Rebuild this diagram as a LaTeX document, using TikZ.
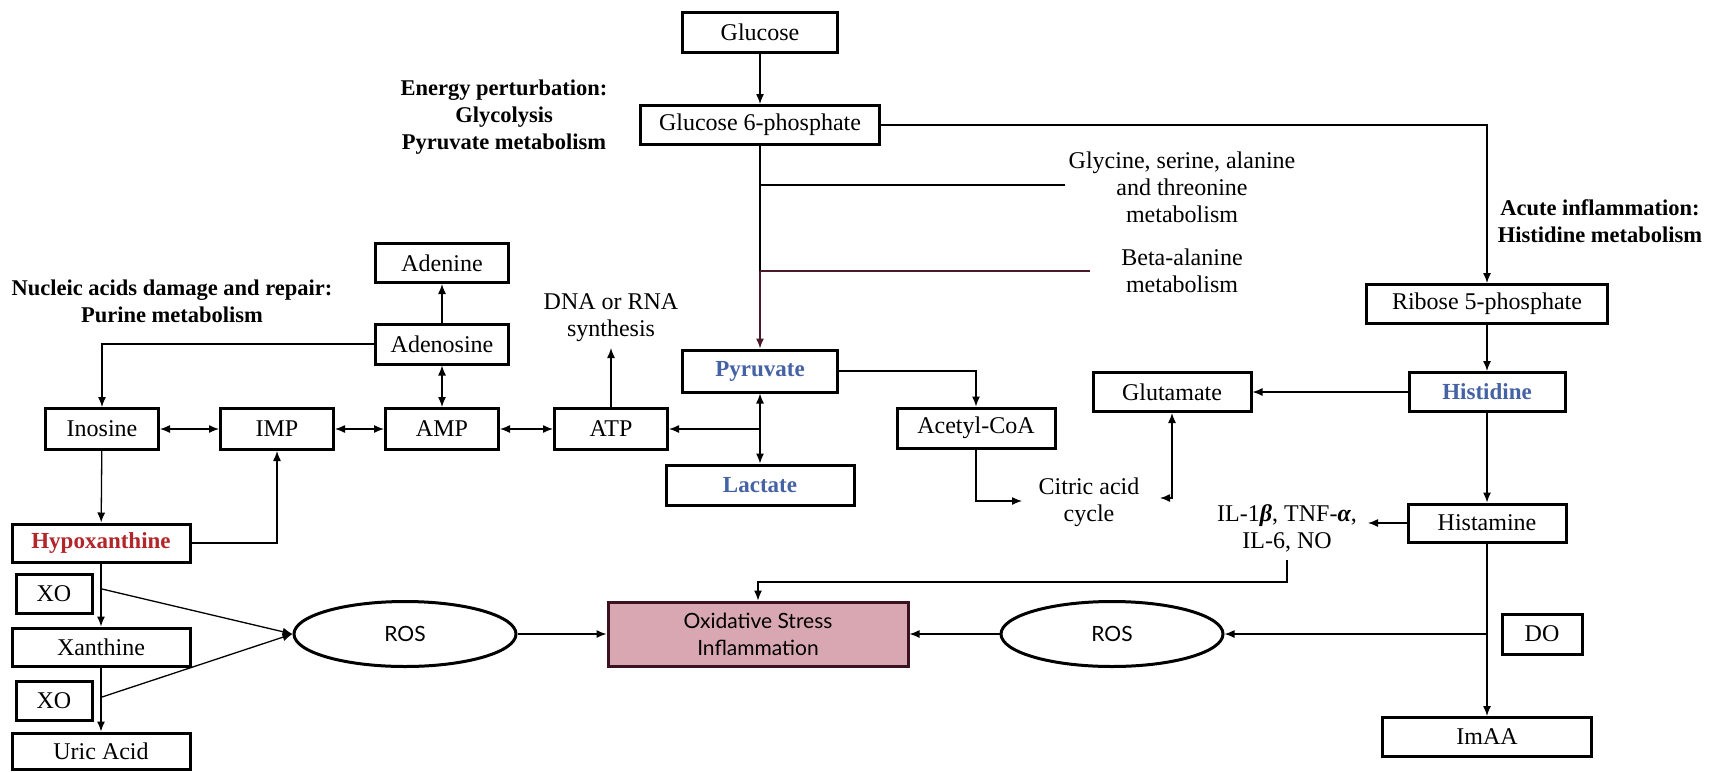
\documentclass[tikz,border=0pt]{standalone}
\usepackage{fontspec}
\setmainfont{Liberation Serif}
\newfontfamily\gill{Lato}
\usetikzlibrary{arrows.meta,shapes.geometric}
\definecolor{pblue}{HTML}{4462A4}
\definecolor{hred}{HTML}{B2262A}
\definecolor{oxfill}{HTML}{D9A7B1}
\definecolor{oxline}{HTML}{3A1222}
\definecolor{maroon}{HTML}{4A1A2C}
\tikzset{
  box/.style={draw, line width=3pt, inner sep=0pt, align=center,
    font=\fontsize{24}{28}\selectfont},
  bbox/.style={box, font=\fontsize{23}{27}\selectfont\bfseries},
  lbl/.style={inner sep=0pt, align=center, font=\fontsize{24}{27}\selectfont},
  blbl/.style={inner sep=0pt, align=center, font=\fontsize{22.5}{27}\selectfont\bfseries},
  rosnode/.style={draw, ellipse, line width=3pt, inner sep=0pt,
    minimum width=222pt, minimum height=65pt, font=\gill\fontsize{21}{24}\selectfont},
  conn/.style={line width=1.3pt},
  arr/.style={conn, -{Latex[length=10pt,width=8pt]}},
  darr/.style={conn, {Latex[length=10pt,width=8pt]}-{Latex[length=10pt,width=8pt]}},
}
\begin{document}
\begin{tikzpicture}[x=1pt,y=-1pt]
\fill[white] (0,0) rectangle (1713,772);
\useasboundingbox (0,0) rectangle (1713,772);

% boxes
\node[box, minimum width=155pt, minimum height=40pt] (glu) at (760,32) {Glucose};
\node[box, minimum width=239pt, minimum height=39pt] (g6p) at (760,125) {Glucose 6-phosphate};
\node[bbox, minimum width=155pt, minimum height=42pt, text=pblue] (pyr) at (760,371) {Pyruvate};
\node[bbox, minimum width=188pt, minimum height=40pt, text=pblue] (lac) at (760,485) {Lactate};
\node[box, minimum width=133pt, minimum height=39pt] (ade) at (442,263) {Adenine};
\node[box, minimum width=133pt, minimum height=40pt] (ados) at (442,344) {Adenosine};
\node[box, minimum width=113pt, minimum height=41pt] (ino) at (102,429) {Inosine};
\node[box, minimum width=113pt, minimum height=41pt] (imp) at (277,429) {IMP};
\node[box, minimum width=113pt, minimum height=41pt] (amp) at (442,429) {AMP};
\node[box, minimum width=113pt, minimum height=41pt] (atp) at (611,429) {ATP};
\node[bbox, minimum width=178pt, minimum height=38pt, text=hred] (hyp) at (101,543) {Hypoxanthine};
\node[box, minimum width=76pt, minimum height=39pt] (xo1) at (54,594) {XO};
\node[box, minimum width=178pt, minimum height=38pt] (xan) at (101,647) {Xanthine};
\node[box, minimum width=76pt, minimum height=39pt] (xo2) at (54,701) {XO};
\node[box, minimum width=178pt, minimum height=36pt] (uric) at (101,751) {Uric Acid};
\node[rosnode] (ros1) at (405,634) {ROS};
\node[box, draw=oxline, fill=oxfill, minimum width=300pt, minimum height=64pt,
  font=\gill\fontsize{21}{27}\selectfont] (ox) at (758,634) {Oxidative Stress\\Inflammation};
\node[rosnode] (ros2) at (1112,634) {ROS};
\node[box, minimum width=80pt, minimum height=40pt] (do) at (1542,634) {DO};
\node[box, minimum width=158pt, minimum height=40pt] (acetyl) at (976,428) {Acetyl-CoA};
\node[box, minimum width=158pt, minimum height=39pt] (glut) at (1172,392) {Glutamate};
\node[bbox, minimum width=156pt, minimum height=39pt, text=pblue] (his) at (1487,392) {Histidine};
\node[box, minimum width=241pt, minimum height=39pt] (rib) at (1487,304) {Ribose 5-phosphate};
\node[box, minimum width=158pt, minimum height=38pt] (hista) at (1487,523) {Histamine};
\node[box, minimum width=209pt, minimum height=39pt] (imaa) at (1487,737) {ImAA};

% text labels
\node[blbl] (energy) at (504,117) {Energy perturbation:\\Glycolysis\\Pyruvate metabolism};
\node[blbl] (nucleic) at (172,301) {Nucleic acids damage and repair:\\Purine metabolism};
\node[blbl] (acute) at (1600,221) {Acute inflammation:\\Histidine metabolism};
\node[lbl] (gly) at (1182,187) {Glycine, serine, alanine\\and threonine\\metabolism};
\node[lbl] (beta) at (1182,271) {Beta-alanine\\metabolism};
\node[lbl] (dna) at (611,318) {DNA or RNA\\synthesis};
\node[lbl] (citric) at (1089,502) {Citric acid\\cycle};
\node[lbl] (il) at (1287,528) {IL-1{\bfseries\itshape β}, TNF-{\bfseries\itshape α},\\IL-6, NO};

% helper coordinates
\coordinate (b1) at (760,185);
\coordinate (b1e) at (1065,185);
\coordinate (b2) at (760,271);
\coordinate (b2e) at (1090,271);
\coordinate (dnab) at (611,348);
\coordinate (citin) at (1022,501);
\coordinate (citr) at (1160,498);
\coordinate (ilr) at (1368,523);
\coordinate (ilb) at (1287,560);
\coordinate (ilbend) at (1287,582);
\coordinate (xs1) at (102,589);
\coordinate (xs2) at (102,697);

% connectors top
\draw[arr] (glu) -- (g6p);
\draw[conn] (g6p.south) -- (b2);
\draw[conn] (b1) -- (b1e);
\draw[conn, draw=maroon] (b2) -- (b2e);
\draw[arr, draw=maroon, fill=maroon] (b2) -- (pyr.north);
\draw[arr] (g6p.east) -| (rib.north);
\draw[arr] (rib) -- (his);
\draw[arr] (his) -- (glut);
\draw[arr] (his) -- (hista);
\draw[arr] (hista) -- (imaa);
\draw[arr] (hista.west) -- (ilr);
\draw[arr] (ilb) -- (ilbend) -| (ox.north);
\draw[arr] (hista.south |- ros2.east) -- (ros2.east);
\draw[arr] (ros2) -- (ox);
\draw[arr] (ros1) -- (ox);
\draw[arr] (pyr.east) -| (acetyl.north);
\draw[arr] (acetyl.south) |- (citin);
\draw[darr] (citr) -| (glut.south);

% pyruvate / purine
\draw[darr] (pyr) -- (lac);
\draw[arr] (pyr.south |- atp.east) -- (atp.east);
\draw[arr] (atp) -- (dnab);
\draw[darr] (ino) -- (imp);
\draw[darr] (imp) -- (amp);
\draw[darr] (amp) -- (atp);
\draw[darr] (amp) -- (ados);
\draw[arr] (ados) -- (ade);
\draw[arr] (ados.west) -| (ino.north);
\draw[arr] (ino) -- (hyp);
\draw[arr] (hyp.east) -| (imp.south);
\draw[arr] (hyp.south -| xan.north) -- (xan.north);
\draw[arr] (xan.south) -- (uric.north);
\draw[arr] (xs1) -- (ros1.west);
\draw[arr] (xs2) -- (ros1.west);
\end{tikzpicture}
\end{document}
